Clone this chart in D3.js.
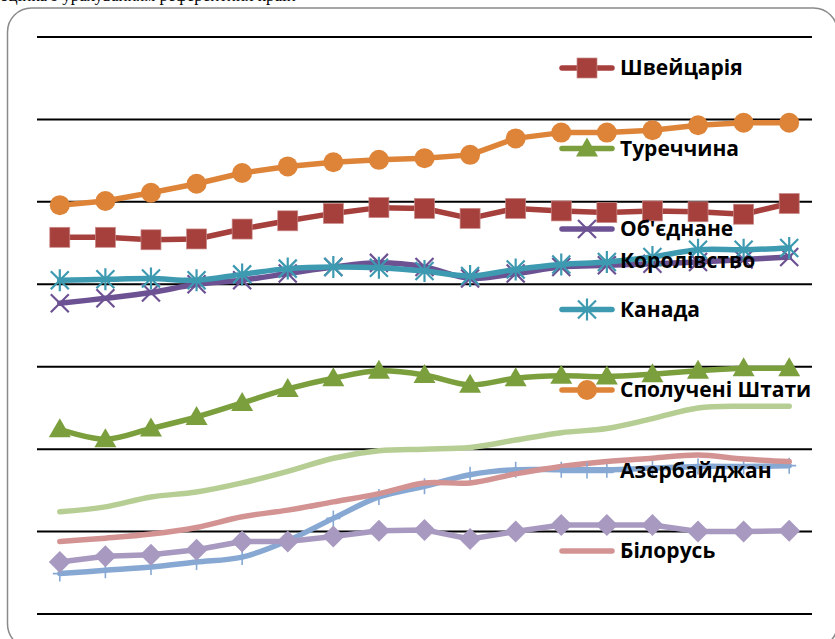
<!DOCTYPE html>
<html>
<head>
<meta charset="utf-8">
<script src="https://cdn.jsdelivr.net/npm/d3@7"></script>
<style>
  body { margin: 0; background: #fff; }
  svg { display: block; }
  .legText { font-family: "Open Sans", "DejaVu Sans", sans-serif; font-weight: bold; font-size: 21px; fill: #000; }
</style>
</head>
<body>
<div id="chart"></div>
<script>
// periods on the x axis (no labels shown on the chart)
var periods = [1, 2, 3, 4, 5, 6, 7, 8, 9, 10, 11, 12, 13, 14, 15, 16, 17];

// y gridlines
var yTicks = [0, 10, 20, 30, 40, 50, 60, 70];

// series values
var usa = [49.6, 50.1, 51.1, 52.2, 53.5, 54.3, 54.8, 55.1, 55.3, 55.7, 57.7, 58.4, 58.4, 58.7, 59.3, 59.6, 59.6];
var swiss = [45.7, 45.7, 45.4, 45.5, 46.7, 47.7, 48.6, 49.3, 49.2, 48.0, 49.2, 48.9, 48.7, 48.9, 48.8, 48.5, 49.8];
var canada = [40.5, 40.6, 40.7, 40.5, 41.2, 41.9, 42.1, 42.0, 41.6, 41.0, 41.8, 42.4, 42.7, 43.3, 44.2, 44.2, 44.4];
var uk = [37.7, 38.3, 39.0, 40.0, 40.5, 41.3, 42.1, 42.6, 42.1, 40.7, 41.3, 42.1, 42.3, 42.5, 42.7, 43.0, 43.3];
var turkey = [22.4, 21.2, 22.5, 23.9, 25.6, 27.3, 28.6, 29.5, 29.0, 27.8, 28.6, 28.9, 28.8, 29.1, 29.5, 29.8, 29.8];
var series9 = [12.4, 13.0, 14.2, 14.8, 15.9, 17.3, 18.9, 19.8, 20.0, 20.2, 21.1, 22.0, 22.5, 23.7, 25.0, 25.2, 25.2];
var azerbaijan = [4.9, 5.3, 5.7, 6.3, 6.9, 8.9, 11.6, 14.2, 15.5, 16.9, 17.5, 17.5, 17.5, 17.7, 17.9, 17.9, 18.0];
var belarus = [8.8, 9.2, 9.7, 10.5, 11.8, 12.6, 13.6, 14.6, 15.9, 15.9, 17.0, 17.9, 18.5, 18.9, 19.3, 18.8, 18.5];
var series10 = [6.3, 7.0, 7.2, 7.8, 8.8, 8.8, 9.4, 10.1, 10.2, 9.1, 10.0, 10.8, 10.8, 10.8, 10.0, 10.0, 10.1];

// drawing order = excel series order
var seriesList = [
  {name: "Швейцарія", values: swiss, color: "#A6403D", marker: "square", smooth: false, legend: true},
  {name: "Туреччина", values: turkey, color: "#7C9F3E", marker: "triangle", smooth: true, legend: true},
  {name: "Об'єднане Королівство", values: uk, color: "#6C5293", marker: "x", smooth: true, legend: true},
  {name: "Канада", values: canada, color: "#3D9AB0", marker: "star", smooth: true, legend: true},
  {name: "Сполучені Штати", values: usa, color: "#DE8438", marker: "circle", smooth: false, legend: true},
  {name: "Азербайджан", values: azerbaijan, color: "#87A8D3", marker: "plus", smooth: true, legend: true},
  {name: "Білорусь", values: belarus, color: "#D39392", marker: "none", smooth: true, legend: true},
  {name: "series 9", values: series9, color: "#B6CE94", marker: "none", smooth: true, legend: false},
  {name: "series 10", values: series10, color: "#A899C0", marker: "diamond", smooth: false, legend: false}
];

var width = 835;
var height = 639;

var svg = d3.select("#chart")
    .append("svg")
    .attr("width", width)
    .attr("height", height);

// the cut off line of text above the chart (only its bottom shows, as in the original)
svg.append("text")
    .attr("x", 0)
    .attr("y", 0.5)
    .attr("font-family", "Liberation Serif, serif")
    .attr("font-size", 17)
    .text("оцінка з урахуванням референтних країн");

// rounded chart frame
svg.append("rect")
    .attr("x", 7.5)
    .attr("y", 8)
    .attr("width", 830)
    .attr("height", 640)
    .attr("rx", 24)
    .attr("fill", "none")
    .attr("stroke", "#8a8a8a")
    .attr("stroke-width", 1.5);

var xScale = d3.scalePoint()
    .domain(periods)
    .range([37, 812])
    .padding(0.5);

var yScale = d3.scaleLinear()
    .domain([0, 70])
    .range([614, 37]);

// gridlines
svg.append("g")
    .selectAll("line")
    .data(yTicks)
    .enter()
    .append("line")
    .attr("x1", 37)
    .attr("x2", 812)
    .attr("y1", function(d) { return yScale(d); })
    .attr("y2", function(d) { return yScale(d); })
    .attr("stroke", "#000")
    .attr("stroke-width", 2);

// draws one marker of a given type in group g
function drawMarker(g, type, color) {
  if (type === "square") {
    g.append("rect").attr("x", -10).attr("y", -10).attr("width", 20).attr("height", 20)
      .attr("fill", color).attr("stroke", "#c98a88").attr("stroke-width", 0.7);
  } else if (type === "circle") {
    g.append("circle").attr("r", 10).attr("fill", color);
  } else if (type === "triangle") {
    g.append("path").attr("d", "M0,-11L11,8L-11,8Z").attr("fill", color);
  } else if (type === "diamond") {
    g.append("path").attr("d", "M0,-11L11,0L0,11L-11,0Z").attr("fill", color);
  } else if (type === "x") {
    g.append("path").attr("d", "M-9,-9L9,9M-9,9L9,-9")
      .attr("stroke", color).attr("stroke-width", 2.2).attr("fill", "none");
  } else if (type === "star") {
    g.append("path").attr("d", "M-9,-9L9,9M-9,9L9,-9M0,-11L0,11")
      .attr("stroke", color).attr("stroke-width", 2.2).attr("fill", "none");
  } else if (type === "plus") {
    g.append("path").attr("d", "M0,-8L0,8M-7,0L7,0")
      .attr("stroke", color).attr("stroke-width", 1.6).attr("fill", "none");
  }
}

// lines + markers
seriesList.forEach(function(s) {
  var line = d3.line()
      .x(function(d, i) { return xScale(periods[i]); })
      .y(function(d) { return yScale(d); })
      .curve(s.smooth ? d3.curveCatmullRom.alpha(0.5) : d3.curveLinear);

  var g = svg.append("g");
  g.append("path")
      .datum(s.values)
      .attr("d", line)
      .attr("fill", "none")
      .attr("stroke", s.color)
      .attr("stroke-width", 5.5)
      .attr("stroke-linejoin", "round")
      .attr("stroke-linecap", "round");

  g.selectAll("g.mk")
      .data(s.values)
      .enter()
      .append("g")
      .attr("class", "mk")
      .attr("transform", function(d, i) {
        return "translate(" + xScale(periods[i]) + "," + yScale(d) + ")";
      })
      .each(function() { drawMarker(d3.select(this), s.marker, s.color); });
});

// legend (only entries that fit are shown, like the original)
var legY0 = 68;
var legStep = 80.5;
var legend = svg.append("g");
seriesList.filter(function(s) { return s.legend; }).forEach(function(s, i) {
  var y = legY0 + i * legStep;
  var item = legend.append("g").attr("transform", "translate(0," + y + ")");
  item.append("line")
      .attr("x1", 562).attr("x2", 612)
      .attr("y1", 0).attr("y2", 0)
      .attr("stroke", s.color)
      .attr("stroke-width", 5.5)
      .attr("stroke-linecap", "round");
  drawMarker(item.append("g").attr("transform", "translate(587,0)"), s.marker, s.color);

  var words = s.name === "Об'єднане Королівство" ? ["Об'єднане", "Королівство"] : [s.name];
  words.forEach(function(w, k) {
    item.append("text")
        .attr("class", "legText")
        .attr("x", 620)
        .attr("y", k * 32 + 7)
        .text(w);
  });
});
</script>
</body>
</html>
